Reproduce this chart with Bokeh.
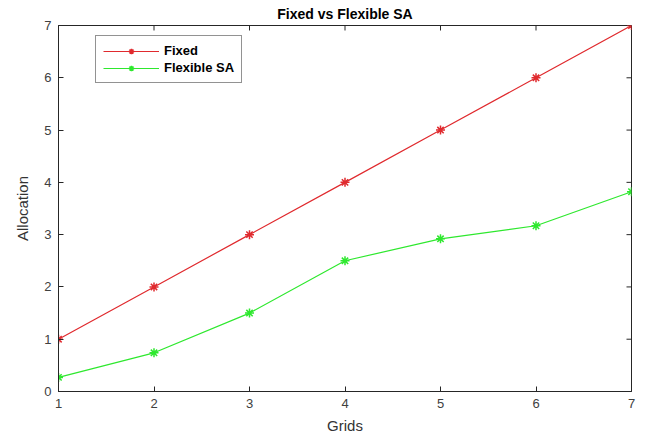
from bokeh.plotting import figure
from bokeh.models import Range1d, FixedTicker, Legend, LegendItem, ColumnDataSource
from bokeh.embed import file_html
from bokeh.resources import INLINE

grids = [1, 2, 3, 4, 5, 6, 7]
fixed = [1, 2, 3, 4, 5, 6, 7]
flexible_sa = [0.27, 0.74, 1.5, 2.5, 2.92, 3.17, 3.82]
x_ticks = [1, 2, 3, 4, 5, 6, 7]
y_ticks = [0, 1, 2, 3, 4, 5, 6, 7]

FONT = "Liberation Sans"
TXT = "#262626"
XMIN, XMAX, YMIN, YMAX = 1, 7, 0, 7

p = figure(width=646, height=437, output_backend="svg", toolbar_location=None,
           x_range=Range1d(XMIN, XMAX), y_range=Range1d(YMIN, YMAX),
           min_border_left=58, min_border_right=15, min_border_bottom=46, min_border_top=0)

p.title.text = "Fixed vs Flexible SA"
p.title.align = "center"
p.title.text_font = FONT
p.title.text_font_size = "14px"
p.title.text_font_style = "bold"
p.title.text_color = "black"
p.title.offset = 0
p.title.standoff = 7

p.grid.visible = False
p.outline_line_color = TXT
p.outline_line_width = 1
p.background_fill_color = "white"
p.border_fill_color = "white"

for ax in [p.xaxis[0], p.yaxis[0]]:
    ax.major_tick_in = 5
    ax.major_tick_out = 0
    ax.minor_tick_in = 0
    ax.minor_tick_out = 0
    ax.axis_line_color = TXT
    ax.major_tick_line_color = TXT
    ax.major_label_text_font = FONT
    ax.major_label_text_font_size = "13px"
    ax.major_label_text_color = "#404040"
    ax.axis_label_text_font = FONT
    ax.axis_label_text_font_size = "15px"
    ax.axis_label_text_font_style = "normal"
    ax.axis_label_text_color = "#333333"

p.xaxis.ticker = FixedTicker(ticks=x_ticks)
p.yaxis.ticker = FixedTicker(ticks=y_ticks)
p.xaxis.axis_label = "Grids"
p.yaxis.axis_label = "Allocation"
p.xaxis.major_label_standoff = 7
p.yaxis.major_label_standoff = 7
p.xaxis.axis_label_standoff = 6
p.yaxis.axis_label_standoff = 10

# mirrored inward ticks on top and right edges (MATLAB "box on")
ty = (YMAX - YMIN) * 5 / 367
tx = (XMAX - XMIN) * 5 / 573
p.segment(x0=x_ticks, y0=[YMAX] * len(x_ticks), x1=x_ticks, y1=[YMAX - ty] * len(x_ticks),
          line_color=TXT, line_width=1)
p.segment(x0=[XMAX] * len(y_ticks), y0=y_ticks, x1=[XMAX - tx] * len(y_ticks), y1=y_ticks,
          line_color=TXT, line_width=1)

src = ColumnDataSource(dict(x=grids, fixed=fixed, flex=flexible_sa))
RED = "#e02a2e"
GREEN = "#2ee82e"
l1 = p.line("x", "fixed", source=src, line_color=RED, line_width=1.2)
m1 = p.scatter("x", "fixed", source=src, marker="asterisk", size=9, line_color=RED, line_width=1.5)
l2 = p.line("x", "flex", source=src, line_color=GREEN, line_width=1.2)
m2 = p.scatter("x", "flex", source=src, marker="asterisk", size=9, line_color=GREEN, line_width=1.5)

legend = Legend(items=[LegendItem(label="Fixed", renderers=[l1, m1]),
                       LegendItem(label="Flexible SA", renderers=[l2, m2])],
                location=(37, 308))
legend.label_text_font = FONT
legend.label_text_font_size = "13px"
legend.label_text_font_style = "bold"
legend.label_text_color = "black"
legend.glyph_width = 56
legend.glyph_height = 14
legend.label_height = 14
legend.label_standoff = 5
legend.spacing = 2
legend.padding = 7
legend.margin = 0
legend.border_line_color = TXT
legend.border_line_width = 1
p.add_layout(legend, "center")

open("out.html", "w").write(file_html(p, INLINE))
